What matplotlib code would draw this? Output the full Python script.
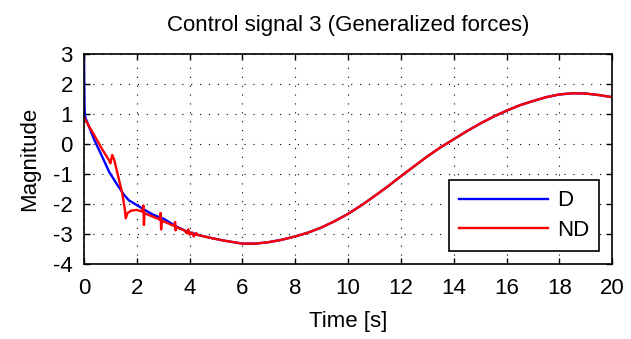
import matplotlib.pyplot as plt

plt.rcParams['font.family'] = ['Liberation Sans', 'DejaVu Sans']
plt.rcParams['axes.unicode_minus'] = False

# shared slow part of both signals
t_common = [4.4, 4.8, 5.3, 6.0, 6.5, 7.0, 7.5, 8.0, 8.5, 9.0, 9.5, 10.0,
            10.5, 11.0, 11.5, 12.0, 12.5, 13.0, 13.5, 14.0, 14.5, 15.0,
            15.5, 16.0, 16.5, 17.0, 17.5, 18.0, 18.5, 19.0, 19.5, 20.0]
v_common = [-3.05, -3.13, -3.22, -3.32, -3.32, -3.27, -3.19, -3.08, -2.95,
            -2.78, -2.57, -2.33, -2.05, -1.74, -1.42, -1.08, -0.75, -0.42,
            -0.12, 0.15, 0.42, 0.67, 0.90, 1.10, 1.28, 1.42, 1.55, 1.64,
            1.68, 1.67, 1.62, 1.55]

# D: start transient
t_d_start = [0.0, 0.02, 0.04, 0.38, 0.7, 0.95, 1.25, 1.52, 1.7, 1.89, 2.3,
             2.6, 3.03, 3.5, 3.9]
v_d_start = [3.0, 1.2, 0.9, 0.15, -0.45, -0.93, -1.35, -1.7, -1.88, -1.98,
             -2.2, -2.35, -2.5, -2.75, -2.92]

# ND: start transient with switching spikes
t_nd_start = [0.0, 0.38, 0.7, 0.95, 1.0, 1.07, 1.15, 1.3, 1.45, 1.55, 1.58,
              1.65, 1.8, 2.0, 2.2, 2.25, 2.27, 2.29, 2.32, 2.6, 2.88, 2.9,
              2.92, 2.95, 3.2, 3.43, 3.45, 3.47, 3.5, 3.8, 3.9, 3.95, 4.0,
              4.1, 4.15, 4.25, 4.3]
v_nd_start = [0.87, 0.3, -0.2, -0.55, -0.65, -0.37, -0.55, -1.1, -1.65,
              -2.2, -2.48, -2.3, -2.22, -2.2, -2.25, -2.05, -2.7, -2.3,
              -2.32, -2.42, -2.52, -2.3, -2.85, -2.56, -2.65, -2.74, -2.6,
              -2.88, -2.77, -2.88, -2.98, -2.85, -3.02, -2.95, -3.08, -2.97,
              -3.03]

t_d = t_d_start + t_common
v_d = v_d_start + v_common
t_nd = t_nd_start + t_common
v_nd = v_nd_start + v_common

fig = plt.figure(figsize=(6.31, 3.39), dpi=100)
ax = fig.add_axes([0.1331, 0.221, 0.837, 0.621])

ax.plot(t_d, v_d, color='#0000ff', lw=1.7, label='D')
ax.plot(t_nd, v_nd, color='#ff0000', lw=1.7, label='ND')

ax.set_xlim(0, 20)
ax.set_ylim(-4, 3)
ax.set_xticks(range(0, 21, 2))
ax.set_yticks(range(-4, 4))
ax.tick_params(direction='in', top=True, right=True, length=4, width=1,
               labelsize=16)
ax.tick_params(axis='x', pad=10)
ax.tick_params(axis='y', pad=8)
ax.grid(True, color='black', linestyle=(0, (1, 7)), linewidth=0.8)
for s in ax.spines.values():
    s.set_linewidth(1.2)

ax.set_title('Control signal 3 (Generalized forces)', fontsize=16, pad=16)
ax.set_xlabel('Time [s]', fontsize=16, labelpad=9)
ax.set_ylabel('Magnitude', fontsize=16, labelpad=9)

leg = ax.legend(loc='lower right', fontsize=16, fancybox=False,
                framealpha=1, edgecolor='black', handlelength=4.0,
                handletextpad=0.4, borderaxespad=0.58, labelspacing=0.4,
                borderpad=0.45)
leg.get_frame().set_linewidth(1.2)

fig.savefig('out.png', dpi=100)
